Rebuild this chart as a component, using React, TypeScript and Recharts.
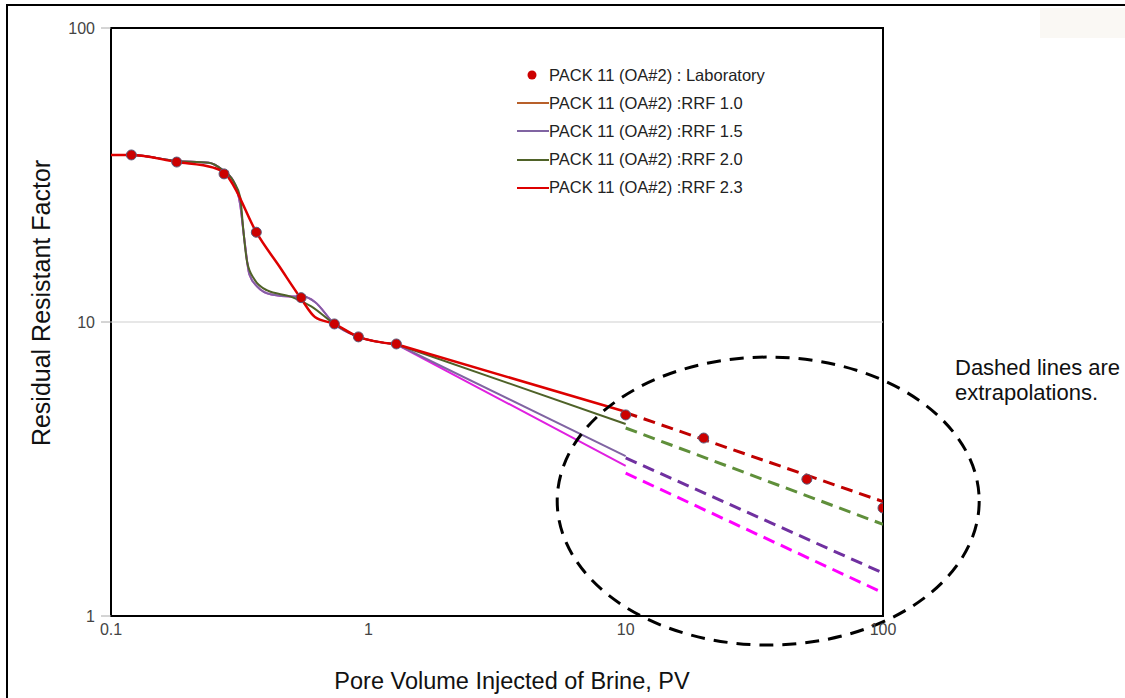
import React from "react";
import { LineChart, Line, XAxis, YAxis, ReferenceLine, ReferenceArea, ReferenceDot } from "recharts";

// laboratory measurements
const labPV = [0.12, 0.18, 0.275, 0.367, 0.548, 0.738, 0.915, 1.285, 10, 20.1, 50.6, 100];
const labRRF = [37, 35, 31.9, 20.2, 12.1, 9.85, 8.9, 8.42, 4.83, 4.03, 2.92, 2.33];

// simulated curves, early (curved) part 0.1 -> 1.285 PV
const rrf23PV = [0.1, 0.12, 0.18, 0.25, 0.28, 0.3, 0.367, 0.45, 0.548, 0.62, 0.738, 0.915, 1.285];
const rrf23Val = [37, 37, 35, 33.5, 31.8, 29, 20.2, 15.5, 12, 10.4, 9.85, 8.9, 8.4];

const rrf20PV = [0.1, 0.12, 0.18, 0.24, 0.27, 0.3, 0.318, 0.326, 0.338, 0.36, 0.405, 0.5, 0.6, 0.738, 0.915, 1.285];
const rrf20Val = [37, 37, 35.3, 34.8, 33, 30, 26.5, 21, 16, 14, 12.8, 12.2, 11.3, 9.85, 8.9, 8.4];

const rrf15PV = [0.1, 0.12, 0.18, 0.24, 0.27, 0.3, 0.318, 0.33, 0.345, 0.37, 0.42, 0.5, 0.56, 0.62, 0.738, 0.915, 1.285];
const rrf15Val = [37, 37, 35.3, 34.8, 33, 30, 25, 19, 14.5, 13.2, 12.4, 12.2, 12.2, 11.7, 9.85, 8.9, 8.4];

const rrf10PV = [0.1, 0.12, 0.18, 0.24, 0.27, 0.3, 0.318, 0.33, 0.345, 0.37, 0.42, 0.5, 0.56, 0.62, 0.738, 0.915, 1.285];
const rrf10Val = [37, 37, 35.3, 34.8, 33, 30, 25, 19, 14.5, 13.2, 12.4, 12.2, 12.2, 11.7, 9.85, 8.9, 8.4];

// simulated curves, straight part 1.285 -> 10 PV
const tailPV = [1.285, 10];
const tail23 = [8.4, 4.95];
const tail20 = [8.4, 4.5];
const tail15 = [8.4, 3.5];
const tail10 = [8.4, 3.24];

// extrapolations (dashed, 10 -> 100 PV)
const extPV = [10, 100];
const ext23 = [4.92, 2.45];
const ext20 = [4.36, 2.05];
const ext15 = [3.45, 1.4];
const ext10 = [3.06, 1.2];

const xTicks = [0.1, 1, 10, 100];
const yTicks = [1, 10, 100];

const legendItems = [
  { label: "PACK 11 (OA#2) : Laboratory", color: "#cc0000", dot: true },
  { label: "PACK 11 (OA#2) :RRF 1.0", color: "#b8602a", dot: false },
  { label: "PACK 11 (OA#2) :RRF 1.5", color: "#8064a2", dot: false },
  { label: "PACK 11 (OA#2) :RRF 2.0", color: "#4f6228", dot: false },
  { label: "PACK 11 (OA#2) :RRF 2.3", color: "#dd0000", dot: false },
];

const zip = (xs: number[], ys: number[]) => xs.map((x, i) => ({ x, y: ys[i] }));

const series = [
  { pv: rrf10PV, val: rrf10Val, tail: tail10, ext: ext10, color: "#e020e0", dash: "#ff00ff", w: 2 },
  { pv: rrf15PV, val: rrf15Val, tail: tail15, ext: ext15, color: "#8064a2", dash: "#7030a0", w: 2 },
  { pv: rrf20PV, val: rrf20Val, tail: tail20, ext: ext20, color: "#4f6228", dash: "#5f8f3a", w: 2 },
  { pv: rrf23PV, val: rrf23Val, tail: tail23, ext: ext23, color: "#dd0000", dash: "#c00000", w: 2.5 },
];

export default function App() {
  const font = "'Liberation Sans', Arial, sans-serif";
  return (
    <div style={{ position: "fixed", left: 0, top: 0, width: 1125, height: 698, background: "#fff", fontFamily: font, overflow: "hidden" }}>
      {/* cropped outer frame */}
      <div style={{ position: "absolute", left: 6, top: 4, right: -10, bottom: -10, borderTop: "2px solid #000", borderLeft: "2px solid #000" }} />
      <div style={{ position: "absolute", left: 1040, top: 8, width: 85, height: 30, background: "#faf8f4" }} />

      <LineChart
        width={1125}
        height={698}
        margin={{ top: 28, right: 242, bottom: 52, left: 0 }}
        style={{ position: "absolute", left: 0, top: 0 }}
      >
        <XAxis
          dataKey="x"
          type="number"
          scale="log"
          domain={[0.1, 100]}
          allowDataOverflow
          ticks={xTicks}
          tickFormatter={(v) => String(v)}
          height={30}
          tickLine={false}
          tickSize={6}
          tickMargin={2}
          axisLine={false}
          tick={{ fontSize: 16, fill: "#444" }}
        />
        <YAxis
          dataKey="y"
          type="number"
          scale="log"
          domain={[1, 100]}
          allowDataOverflow
          ticks={yTicks}
          width={111}
          axisLine={false}
          tickLine={{ stroke: "#aaa" }}
          tickSize={10}
          tickMargin={6}
          tick={{ fontSize: 16, fill: "#444" }}
        />
        <ReferenceLine y={10} stroke="#cfcfcf" strokeWidth={1} />

        {series.map((s, i) => (
          <Line key={"c" + i} data={zip(s.pv, s.val)} dataKey="y" type="monotone" stroke={s.color} strokeWidth={s.w} dot={false} activeDot={false} isAnimationActive={false} />
        ))}
        {series.map((s, i) => (
          <Line key={"t" + i} data={zip(tailPV, s.tail)} dataKey="y" type="linear" stroke={s.color} strokeWidth={s.w} dot={false} activeDot={false} isAnimationActive={false} />
        ))}
        {series.map((s, i) => (
          <Line key={"e" + i} data={zip(extPV, s.ext)} dataKey="y" type="linear" stroke={s.dash} strokeWidth={3} strokeDasharray="12 7" dot={false} activeDot={false} isAnimationActive={false} />
        ))}

        <Line
          data={zip(labPV, labRRF)}
          dataKey="y"
          stroke="none"
          dot={{ r: 5, fill: "#cc0000", stroke: "#5b5b7a", strokeWidth: 1 }}
          activeDot={false}
          isAnimationActive={false}
        />

        <ReferenceArea x1={0.1} x2={100} y1={1} y2={100} fill="none" stroke="#000" strokeWidth={2} ifOverflow="visible" />
        <ReferenceDot
          x={35.8}
          y={2.46}
          ifOverflow="visible"
          shape={(p: any) => (
            <ellipse cx={p.cx} cy={p.cy} rx={211} ry={144} fill="none" stroke="#000" strokeWidth={3} strokeDasharray="14 9" />
          )}
        />
      </LineChart>

      {/* legend */}
      <div style={{ position: "absolute", left: 515, top: 64, fontSize: 16.5, color: "#222" }}>
        {legendItems.map((it, i) => (
          <div key={i} style={{ position: "absolute", left: 0, top: i * 28.2, height: 22, width: 320, display: "flex", alignItems: "center", whiteSpace: "nowrap" }}>
            <svg width={34} height={22} style={{ flex: "none" }}>
              {it.dot ? (
                <circle cx={17} cy={11} r={4.5} fill={it.color} />
              ) : (
                <line x1={2} y1={11} x2={34} y2={11} stroke={it.color} strokeWidth={2} />
              )}
            </svg>
            <span>{it.label}</span>
          </div>
        ))}
      </div>

      {/* axis titles */}
      <div style={{ position: "absolute", left: 41, top: 303, transform: "translate(-50%, -50%) rotate(-90deg)", fontSize: 25, color: "#111", whiteSpace: "nowrap" }}>
        Residual Resistant Factor
      </div>
      <div style={{ position: "absolute", left: 512, top: 681, transform: "translate(-50%, -50%)", fontSize: 23.5, color: "#111", whiteSpace: "nowrap" }}>
        Pore Volume Injected of Brine, PV
      </div>

      {/* annotation */}
      <div style={{ position: "absolute", left: 955, top: 355, fontSize: 22, lineHeight: "25px", color: "#111", whiteSpace: "nowrap" }}>
        Dashed lines are
        <br />
        extrapolations.
      </div>
    </div>
  );
}
